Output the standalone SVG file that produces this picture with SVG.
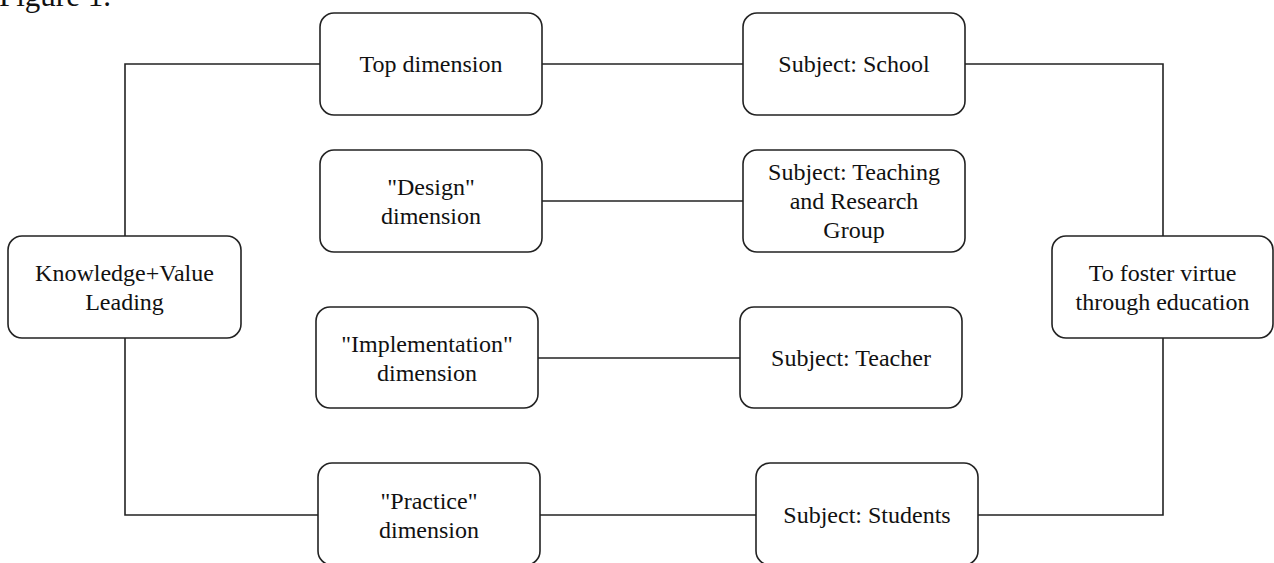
<svg xmlns="http://www.w3.org/2000/svg" width="1274" height="563" viewBox="0 0 1274 563">
<style>
.box{fill:#fff;stroke:#222;stroke-width:1.6}
.lbl{font-family:"Liberation Serif","Times New Roman",serif;font-size:24px;fill:#111;text-anchor:middle}
.conn{fill:none;stroke:#222;stroke-width:1.6}
.cap{font-family:"Liberation Serif","Times New Roman",serif;font-size:31px;fill:#111}
</style>
<rect width="1274" height="563" fill="#fff"/>
<text class="cap" x="-1" y="6">Figure 1.</text>
<g id="connectors">
<path class="conn" d="M125,236 V64 H320"/>
<path class="conn" d="M542,64 H743"/>
<path class="conn" d="M965,64 H1163 V236"/>
<path class="conn" d="M542,201 H743"/>
<path class="conn" d="M538,358 H740"/>
<path class="conn" d="M125,338 V515 H318"/>
<path class="conn" d="M540,515 H756"/>
<path class="conn" d="M978,515 H1163 V338"/>
</g>
<g id="top-dimension">
<rect class="box" x="320" y="13" width="222" height="102" rx="14"/>
<text class="lbl" x="431" y="72">Top dimension</text>
</g>
<g id="subject-school">
<rect class="box" x="743" y="13" width="222" height="102" rx="14"/>
<text class="lbl" x="854" y="72">Subject: School</text>
</g>
<g id="design-dimension">
<rect class="box" x="320" y="150" width="222" height="102" rx="14"/>
<text class="lbl" x="431" y="195">"Design"</text>
<text class="lbl" x="431" y="224">dimension</text>
</g>
<g id="subject-teaching">
<rect class="box" x="743" y="150" width="222" height="102" rx="14"/>
<text class="lbl" x="854" y="180">Subject: Teaching</text>
<text class="lbl" x="854" y="209">and Research</text>
<text class="lbl" x="854" y="238">Group</text>
</g>
<g id="knowledge-value">
<rect class="box" x="8" y="236" width="233" height="102" rx="14"/>
<text class="lbl" x="124.5" y="281">Knowledge+Value</text>
<text class="lbl" x="124.5" y="310">Leading</text>
</g>
<g id="foster-virtue">
<rect class="box" x="1052" y="236" width="221" height="102" rx="14"/>
<text class="lbl" x="1162.5" y="281">To foster virtue</text>
<text class="lbl" x="1162.5" y="310">through education</text>
</g>
<g id="implementation-dimension">
<rect class="box" x="316" y="307" width="222" height="101" rx="14"/>
<text class="lbl" x="427" y="352">"Implementation"</text>
<text class="lbl" x="427" y="381">dimension</text>
</g>
<g id="subject-teacher">
<rect class="box" x="740" y="307" width="222" height="101" rx="14"/>
<text class="lbl" x="851" y="366">Subject: Teacher</text>
</g>
<g id="practice-dimension">
<rect class="box" x="318" y="463" width="222" height="102" rx="14"/>
<text class="lbl" x="429" y="509">"Practice"</text>
<text class="lbl" x="429" y="538">dimension</text>
</g>
<g id="subject-students">
<rect class="box" x="756" y="463" width="222" height="102" rx="14"/>
<text class="lbl" x="867" y="523">Subject: Students</text>
</g>
</svg>
